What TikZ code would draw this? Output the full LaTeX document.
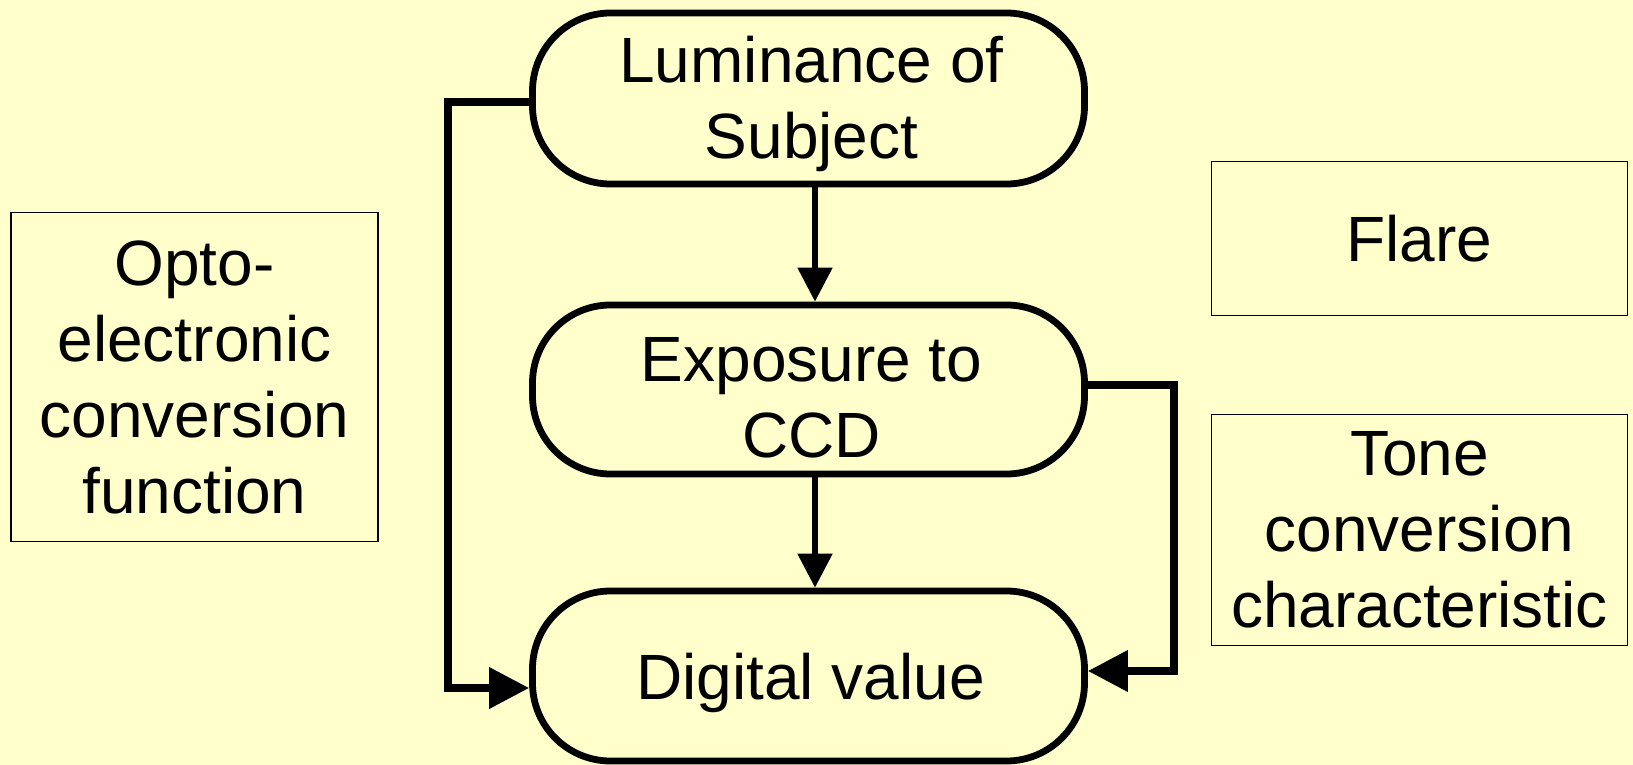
\documentclass[tikz,border=0pt]{standalone}
\usepackage{fontspec}
\setmainfont{Liberation Sans}
\usetikzlibrary{arrows.meta}
\definecolor{paper}{RGB}{255,255,204}
\tikzset{
  stage/.style={draw=black, line width=3.4pt, fill=paper, rounded corners=39pt,
    minimum width=276pt, inner sep=0pt},
  stagetext/.style={align=center, inner sep=0pt},
  factor/.style={draw=black, line width=0.8pt, fill=paper, align=center, inner sep=0pt},
  flow/.style={draw=black, line width=2.6pt, -{Triangle[length=17pt,width=17pt]}},
  feed/.style={draw=black, line width=3.6pt, -{Triangle[length=20pt,width=20pt]}}
}
\begin{document}
\begin{tikzpicture}[x=0.5pt, y=-0.5pt, font=\fontsize{32}{38}\selectfont]
  \fill[paper] (0,0) rectangle (1633,765);
  \useasboundingbox (0,0) rectangle (1633,765);

  % process stages
  \node[stage, minimum height=85.5pt] (lum) at (808.5,98.5) {};
  \node[stage, minimum height=84.5pt] (exp) at (808.5,389.5) {};
  \node[stage, minimum height=85pt] (dig) at (808.5,676) {};
  \node[stagetext] (lumtext) at ([xshift=1.5pt,yshift=-2.5pt]lum.center) {Luminance of\\Subject};
  \node[stagetext] (exptext) at ([xshift=1.5pt,yshift=-4pt]exp.center) {Exposure to\\CCD};
  \node[stagetext] (digtext) at ([xshift=1pt,yshift=-3.5pt]dig.center) {Digital value};

  % influencing factors
  \node[factor, minimum width=183.5pt, minimum height=164.5pt] (oecf) at (194.5,377)
    {Opto-\\electronic\\conversion\\function};
  \node[factor, minimum width=208pt, minimum height=77pt] (flare) at (1419.5,238.5) {Flare};
  \node[factor, minimum width=208pt, minimum height=115.5pt] (tone) at (1419.5,530)
    {Tone\\conversion\\characteristic};

  % main flow
  \draw[flow] ([xshift=3.25pt]lum.south) -- ([xshift=3.25pt]exp.north);
  \draw[flow] ([xshift=3.25pt]exp.south) -- ([xshift=3.25pt]dig.north);

  % bypass connectors
  \coordinate (lx) at (448,0);
  \coordinate (rx) at (1174,0);
  \draw[feed] ([yshift=-1.75pt]lum.west) -- ([yshift=-1.75pt]lum.west -| lx)
    -- ([yshift=-6pt]dig.west -| lx) -- ([yshift=-6pt]dig.west);
  \draw[feed] ([yshift=2.25pt]exp.east) -- ([yshift=2.25pt]exp.east -| rx)
    -- ([yshift=2.5pt]dig.east -| rx) -- ([yshift=2.5pt]dig.east);
\end{tikzpicture}
\end{document}
